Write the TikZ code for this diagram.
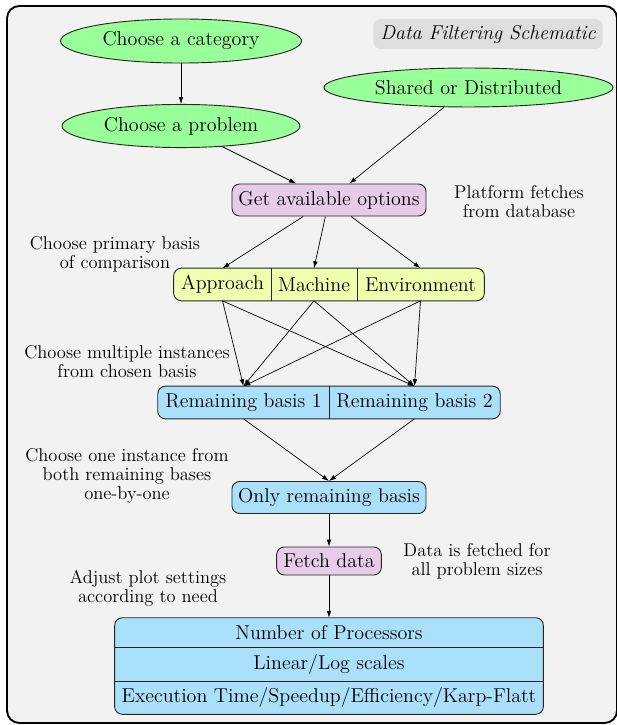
\documentclass[tikz,border=0pt]{standalone}
\usetikzlibrary{shapes.geometric,arrows.meta,backgrounds}
\definecolor{bgc}{RGB}{242,242,242}
\definecolor{ellc}{RGB}{153,255,153}
\definecolor{purc}{RGB}{230,204,230}
\definecolor{yelc}{RGB}{238,255,176}
\definecolor{bluc}{RGB}{170,224,250}
\definecolor{tagc}{RGB}{222,222,222}
\begin{document}
\begin{tikzpicture}[x=0.64935pt,y=-0.64935pt,
  every node/.style={font=\fontsize{13}{15.6}\selectfont},
  ell/.style={ellipse, draw=black!85, line width=0.6pt, fill=ellc, inner sep=0pt},
  box/.style={rectangle, rounded corners=5pt, draw=black!85, line width=0.6pt, inner sep=0pt, minimum height=20.8pt},
  part/.style={rectangle, inner sep=0pt, minimum height=20.8pt},
  note/.style={align=center, inner sep=0pt, font=\fontsize{12}{12.3}\selectfont},
  arr/.style={-{Latex[length=4.5pt,width=3pt]}, line width=0.45pt},
  divider/.style={draw=black!85, line width=0.6pt},
  outline/.style={draw=black!85, line width=0.6pt, rounded corners=5pt},
  frame/.style={draw=black, line width=1.2pt, fill=bgc, rounded corners=8pt}]
\useasboundingbox (0,0) rectangle (616,725);

\node[fill=tagc, rounded corners=5pt, minimum width=149pt, minimum height=19.5pt, inner sep=0pt] (title) at (488,34) {\itshape Data Filtering Schematic};

\node[ell, minimum width=156.5pt, minimum height=28.6pt] (cat) at (181,41) {Choose a category};
\node[ell, minimum width=154.5pt, minimum height=28pt] (prob) at (181,126) {Choose a problem};
\node[ell, minimum width=187.7pt, minimum height=25.3pt] (shared) at (468.5,87.5) {Shared or Distributed};
\node[box, fill=purc, minimum width=126pt] (opt) at (329,200) {Get available options};
\node[note] (n1) at (519,202) {Platform fetches\\from database};

\node[part, minimum width=63pt] (app) at (222.5,284.5) {Approach};
\node[part, minimum width=55.8pt] (mac) at (314,284.5) {Machine};
\node[part, minimum width=82.5pt] (env) at (420.5,284.5) {Environment};
\node[note] (n2) at (115,254) {Choose primary basis\\of comparison};

\node[part, minimum width=111pt] (rb1) at (243.5,402.5) {Remaining basis 1};
\node[part, minimum width=111pt] (rb2) at (414.5,402.5) {Remaining basis 2};
\node[note] (n3) at (127,362) {Choose multiple instances\\from chosen basis};

\node[box, fill=bluc, minimum width=126pt] (only) at (329,497.5) {Only remaining basis};
\node[note] (n4) at (127,476) {Choose one instance from\\both remaining bases\\one-by-one};

\node[box, fill=purc, minimum width=68pt, minimum height=18.2pt] (fetch) at (329,561) {Fetch data};
\node[note] (n5) at (477,561) {Data is fetched for\\all problem sizes};
\node[note] (n6) at (148,588) {Adjust plot settings\\according to need};

\node[part, minimum width=278pt, minimum height=18.8pt] (np) at (329,632.5) {Number of Processors};
\node[part, minimum width=278pt, minimum height=22.1pt] (ls) at (329,664) {Linear/Log scales};
\node[part, minimum width=278pt, minimum height=21.4pt] (ex) at (329,697.5) {Execution Time/Speedup/Efficiency/Karp-Flatt};

\begin{scope}[on background layer]
\draw[frame] (7,6) rectangle (617,723);
\draw[outline, fill=yelc] (app.north west) rectangle (env.south east);
\draw[outline, fill=bluc] (rb1.north west) rectangle (rb2.south east);
\draw[outline, fill=bluc] (np.north west) rectangle (ex.south east);
\end{scope}

\draw[divider] (app.north east) -- (app.south east);
\draw[divider] (mac.north east) -- (mac.south east);
\draw[divider] (rb1.north east) -- (rb1.south east);
\draw[divider] (np.south west) -- (np.south east);
\draw[divider] (ls.south west) -- (ls.south east);

\draw[arr] (cat) -- (prob);
\draw[arr] (prob) -- (opt);
\draw[arr] (shared) -- (opt);
\draw[arr] (opt) -- (app.north);
\draw[arr] (opt) -- (mac.north);
\draw[arr] (opt) -- (env.north);
\foreach \s in {app,mac,env}{
  \foreach \t in {rb1,rb2}{
    \draw[arr] (\s.south) -- (\t.north);
  }
}
\draw[arr] (rb1.south) -- (only.north);
\draw[arr] (rb2.south) -- (only.north);
\draw[arr] (only) -- (fetch);
\draw[arr] (fetch) -- (np);
\end{tikzpicture}
\end{document}
